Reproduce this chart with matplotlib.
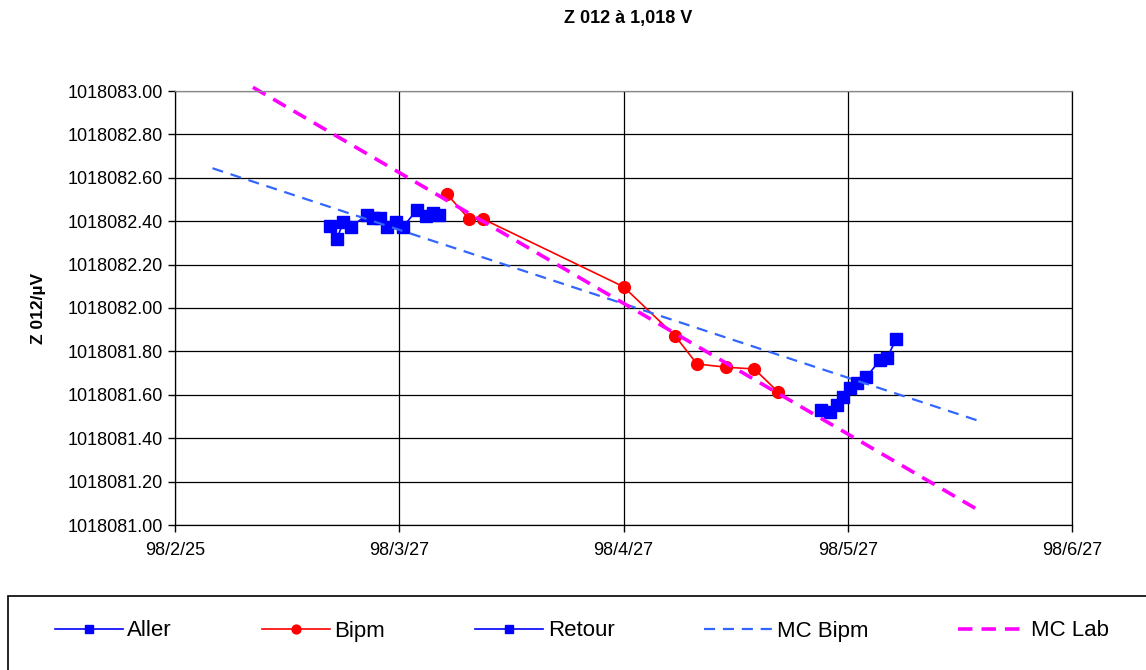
import matplotlib
matplotlib.use('Agg')
import matplotlib.pyplot as plt
from matplotlib.patches import Rectangle
from matplotlib.ticker import FormatStrFormatter

plt.rcParams['font.family'] = ['Liberation Sans', 'DejaVu Sans']

# jours depuis 98/2/25
aller_jour = [21.1, 22.0, 22.9, 23.9, 26.1, 26.9, 27.9, 28.8, 30.0, 31.0, 32.9, 34.1, 35.1, 35.9]
aller_val = [1018082.378, 1018082.318, 1018082.396, 1018082.373, 1018082.429, 1018082.415,
             1018082.415, 1018082.373, 1018082.396, 1018082.373, 1018082.452, 1018082.424,
             1018082.438, 1018082.429]

bipm_jour = [37.0, 40.0, 41.9, 61.0, 68.0, 71.0, 75.0, 78.8, 82.0]
bipm_val = [1018082.524, 1018082.410, 1018082.410, 1018082.098, 1018081.872, 1018081.742,
            1018081.727, 1018081.719, 1018081.614]

retour_jour = [87.8, 89.1, 90.0, 90.9, 91.8, 92.7, 94.0, 95.9, 96.8, 98.1]
retour_val = [1018081.530, 1018081.522, 1018081.553, 1018081.591, 1018081.630, 1018081.656,
              1018081.681, 1018081.760, 1018081.768, 1018081.857]

# droites des moindres carrés (extrémités)
mc_bipm_jour = [5.1, 109.4]
mc_bipm_val = [1018082.644, 1018081.479]
mc_lab_jour = [10.6, 109.4]
mc_lab_val = [1018083.017, 1018081.066]

xticks_jour = [0, 30.5, 61, 91.5, 122]
xticks_lab = ["98/2/25", "98/3/27", "98/4/27", "98/5/27", "98/6/27"]
y_min, y_max, y_pas = 1018081.0, 1018083.0, 0.2

fig = plt.figure(figsize=(11.46, 6.70), dpi=100)
ax = fig.add_axes([175 / 1146, 1 - 525 / 670, (1072 - 175) / 1146, (525 - 91) / 670])

ax.plot(aller_jour, aller_val, color='#0000FF', lw=1.2, marker='s', ms=8.5, label='Aller')
ax.plot(bipm_jour, bipm_val, color='#FF0000', lw=1.2, marker='o', ms=8.5, label='Bipm')
ax.plot(retour_jour, retour_val, color='#0000FF', lw=1.2, marker='s', ms=8.5, label='Retour')
ax.plot(mc_bipm_jour, mc_bipm_val, color='#3366FF', lw=1.6, dashes=(5, 3.5), label='MC Bipm')
ax.plot(mc_lab_jour, mc_lab_val, color='#FF00FF', lw=2.6, dashes=(4, 2.5), label='MC Lab',
        clip_on=False)

ax.set_xlim(xticks_jour[0], xticks_jour[-1])
ax.set_ylim(y_min, y_max)
ax.set_xticks(xticks_jour)
ax.set_xticklabels(xticks_lab)
n = int(round((y_max - y_min) / y_pas))
ax.set_yticks([y_min + i * y_pas for i in range(n + 1)])
ax.yaxis.set_major_formatter(FormatStrFormatter('%.2f'))
ax.tick_params(direction='out', length=5, width=1, labelsize=13, color='black')
ax.tick_params(axis='x', pad=7)
ax.grid(True, color='black', lw=0.9)
ax.set_axisbelow(True)
for s in ax.spines.values():
    s.set_color('black')
    s.set_linewidth(0.9)
ax.spines['top'].set_color('#888888')

fig.text(628 / 1146, 1 - 18 / 670, "Z 012 à 1,018 V", ha='center', va='center',
         fontsize=13, fontweight='bold')
fig.text(38 / 1146, 1 - 308 / 670, "Z 012/µV", ha='center', va='center',
         fontsize=12.5, fontweight='bold', rotation=90)

# cadre de la légende
fig.add_artist(Rectangle((8 / 1146, -0.05), 1.1, 0.05 + 1 - 596 / 670, transform=fig.transFigure,
                         fill=False, edgecolor='black', lw=1.2))
fig.legend(*ax.get_legend_handles_labels(), loc='center left',
           bbox_to_anchor=(55 / 1146, 1 - 631 / 670), ncol=5, frameon=False,
           fontsize=16, handlelength=3.06, handletextpad=0.2, columnspacing=4.05,
           borderpad=0, borderaxespad=0, markerscale=0.75)

fig.savefig('out.png', dpi=100)
